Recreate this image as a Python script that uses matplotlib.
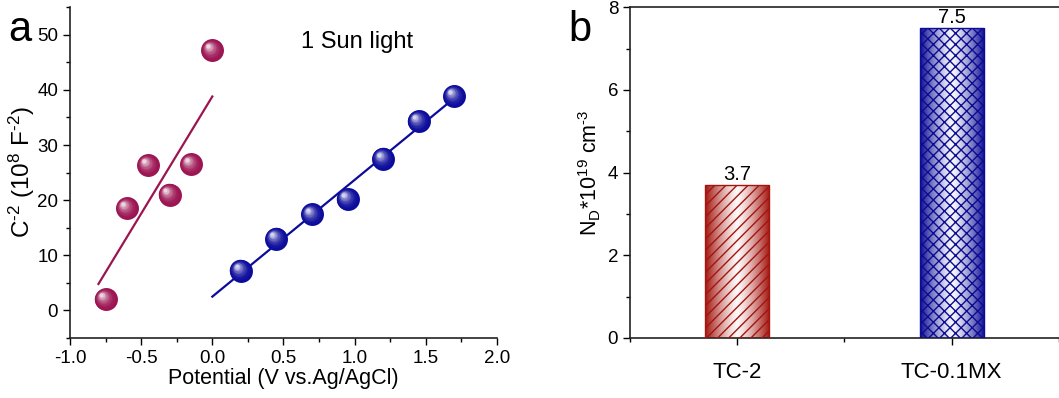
import numpy as np
import matplotlib
matplotlib.use("Agg")
from matplotlib import pyplot as plt
from matplotlib import transforms
from matplotlib.ticker import MultipleLocator, FormatStrFormatter
from matplotlib.colors import to_rgb

plt.rcParams['font.family'] = ['Liberation Sans', 'DejaVu Sans']
plt.rcParams['mathtext.fontset'] = 'custom'
plt.rcParams['mathtext.rm'] = 'Liberation Sans'
plt.rcParams['mathtext.it'] = 'Liberation Sans'
plt.rcParams['axes.unicode_minus'] = False
plt.rcParams['hatch.linewidth'] = 1.0

# panel a: Mott-Schottky data
red_x = [-0.75, -0.6, -0.45, -0.3, -0.15, 0.0]
red_y = [2.0, 18.5, 26.3, 21.0, 26.5, 47.2]
red_fit_x = [-0.8, 0.0]
red_fit_y = [4.8, 38.8]

blue_x = [0.2, 0.45, 0.7, 0.95, 1.2, 1.45, 1.7]
blue_y = [7.2, 13.0, 17.4, 20.2, 27.5, 34.3, 38.9]
blue_fit_x = [0.0, 1.7]
blue_fit_y = [2.5, 38.5]

# panel b: donor density
samples = ["TC-2", "TC-0.1MX"]
nd_values = [3.7, 7.5]

RED = "#9c1452"
BLUE = "#0c0c9c"
BAR_RED = "#a3150f"
BAR_BLUE = "#0c0c94"

fig = plt.figure(figsize=(10.59, 3.98), dpi=100)


def blend(c, t):
    c = np.array(to_rgb(c))
    return tuple(c * (1 - t) + np.ones(3) * t)


def spheres(ax, x, y, color, ms=16.5):
    # fake 3D ball: stacked shrinking circles shifted to the upper left
    n = 14
    ax.plot(x, y, 'o', ms=ms, color=color, mec='none', zorder=3)
    for k in range(1, n):
        f = k / n
        size = ms * (1 - 0.9 * f)
        off = transforms.offset_copy(ax.transData, fig=fig, x=-ms * 0.2 * f,
                                     y=ms * 0.2 * f, units='points')
        ax.plot(x, y, 'o', ms=size, color=blend(color, f ** 2.2 * 0.97),
                mec='none', transform=off, zorder=3 + k)


# hyphen instead of the math minus in superscripts
hy = "\u2010"

# ---- panel a
ax1 = fig.add_axes([0.0661, 0.1508, 0.4032, 0.8312])
ax1.plot(red_fit_x, red_fit_y, '-', color=RED, lw=1.6, zorder=2)
ax1.plot(blue_fit_x, blue_fit_y, '-', color=BLUE, lw=1.6, zorder=2)
spheres(ax1, red_x, red_y, RED)
spheres(ax1, blue_x, blue_y, BLUE)
ax1.set_xlim(-1.0, 2.0)
ax1.set_ylim(-5, 55)
ax1.xaxis.set_major_locator(MultipleLocator(0.5))
ax1.xaxis.set_minor_locator(MultipleLocator(0.25))
ax1.xaxis.set_major_formatter(FormatStrFormatter('%.1f'))
ax1.yaxis.set_minor_locator(MultipleLocator(5))
ax1.set_yticks([0, 10, 20, 30, 40, 50])
ax1.spines['top'].set_visible(False)
ax1.spines['right'].set_visible(False)
ax1.set_xlabel("Potential (V vs.Ag/AgCl)", fontsize=15.5, labelpad=1)
ax1.set_ylabel("C$^{\\mathregular{" + hy + "2}}$ (10$^{\\mathregular{8}}$ F$^{\\mathregular{" + hy + "2}}$)",
               fontsize=17.5)
ax1.yaxis.set_label_coords(-0.077, 0.5)
ax1.yaxis.label.set_va('bottom')
ax1.text(0.62, 48.6, "1 Sun light", fontsize=17, va='center', ha='left')

# ---- panel b
ax2 = fig.add_axes([0.5949, 0.1508, 0.4051, 0.8312])
xpos = np.arange(len(samples))
width = 0.3
bar_styles = [(BAR_RED, '///'), (BAR_BLUE, 'xxx')]
for i, (val, (col, hatch)) in enumerate(zip(nd_values, bar_styles)):
    left = xpos[i] - width / 2
    bar = ax2.bar(xpos[i], val, width=width, color='none', edgecolor='none', zorder=2)[0]
    # horizontal gradient: dark edges, white centre
    t = np.linspace(-1, 1, 200)
    w = 1 - np.abs(t) ** 1.3
    img = np.array([[blend(col, 0.97 * wi) for wi in w]])
    im = ax2.imshow(img, extent=[left, left + width, 0, val], aspect='auto',
                    interpolation='bilinear', zorder=2)
    im.set_clip_path(bar)
    ax2.bar(xpos[i], val, width=width, color='none', edgecolor=col,
            hatch=hatch, lw=1.0, zorder=3)
    ax2.text(xpos[i], val + 0.03, str(val), ha='center', va='bottom', fontsize=14.5)
ax2.set_xlim(-0.5, 1.5)
ax2.set_ylim(0, 8)
ax2.set_xticks(xpos)
ax2.set_xticklabels(samples)
ax2.xaxis.set_minor_locator(MultipleLocator(0.5))
ax2.yaxis.set_major_locator(MultipleLocator(2))
ax2.yaxis.set_minor_locator(MultipleLocator(1))
ax2.spines['right'].set_visible(False)
ax2.set_ylabel("N$_{\\mathregular{D}}$*10$^{\\mathregular{19}}$ cm$^{\\mathregular{" + hy + "3}}$",
               fontsize=15.5)
ax2.yaxis.set_label_coords(-0.062, 0.5)
ax2.yaxis.label.set_va('bottom')

for ax in (ax1, ax2):
    for s in ax.spines.values():
        s.set_linewidth(1.2)
        s.set_color('#222222')
    ax.tick_params(which='major', direction='out', length=5, width=1.0, labelsize=13.5)
    ax.tick_params(which='minor', direction='out', length=3, width=1.0)
ax2.tick_params(axis='x', which='major', pad=12, labelsize=16)

fig.text(0.019, 0.925, "a", fontsize=30, ha='center', va='center')
fig.text(0.548, 0.925, "b", fontsize=30, ha='center', va='center')

fig.savefig("out.png", dpi=100)
